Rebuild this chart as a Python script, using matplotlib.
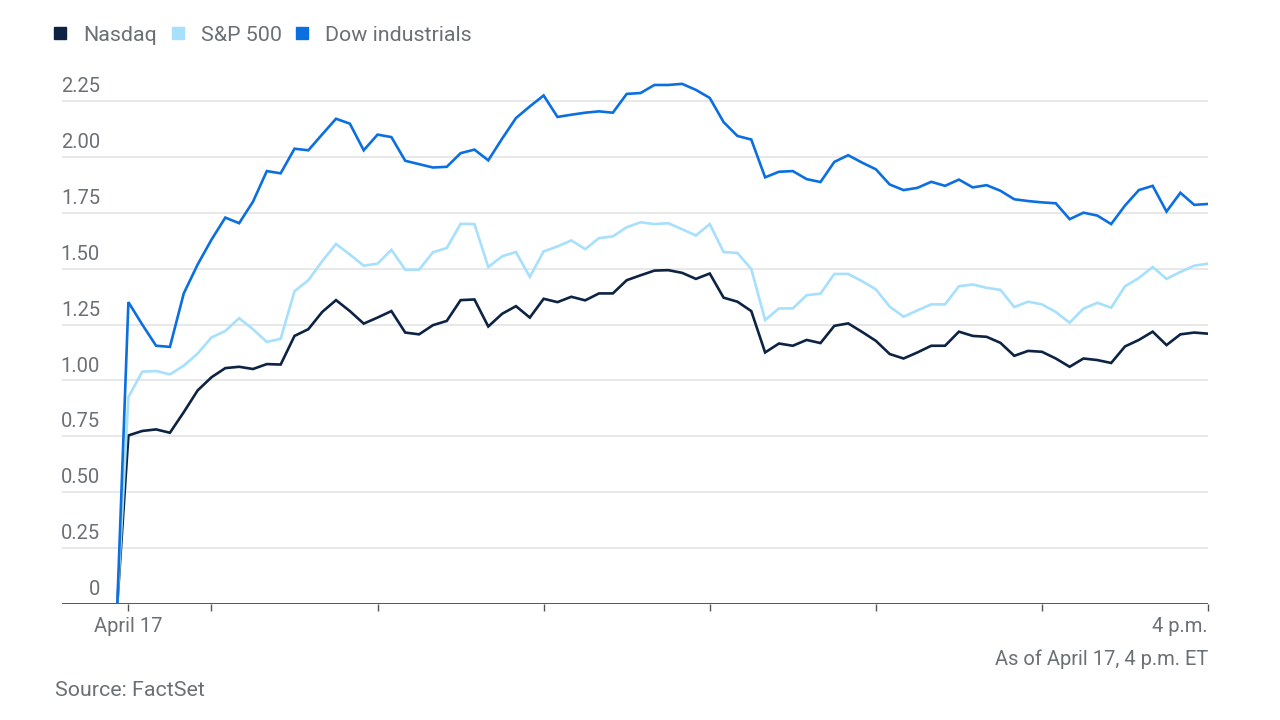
import matplotlib.pyplot as plt
from matplotlib.lines import Line2D
from matplotlib.transforms import blended_transform_factory, offset_copy

plt.rcParams['font.family'] = ['Roboto', 'DejaVu Sans']

# minutes after 9:30 a.m. (first point is the prior close)
minutes = [-4] + list(range(0, 391, 5))

nasdaq = [0, 0.754, 0.774, 0.781, 0.766, 0.858, 0.955, 1.014, 1.055, 1.061, 1.051,
          1.073, 1.071, 1.199, 1.229, 1.306, 1.359, 1.310, 1.254, 1.281, 1.310,
          1.214, 1.206, 1.247, 1.266, 1.359, 1.362, 1.241, 1.298, 1.332, 1.281,
          1.365, 1.350, 1.374, 1.358, 1.389, 1.389, 1.448, 1.470, 1.491, 1.493,
          1.481, 1.454, 1.478, 1.370, 1.352, 1.310, 1.125, 1.165, 1.155, 1.181,
          1.167, 1.244, 1.255, 1.217, 1.177, 1.118, 1.098, 1.125, 1.155, 1.155,
          1.218, 1.199, 1.195, 1.168, 1.110, 1.132, 1.128, 1.098, 1.061, 1.098,
          1.091, 1.078, 1.152, 1.181, 1.218, 1.158, 1.206, 1.214, 1.209]

sp500 = [0, 0.925, 1.039, 1.042, 1.027, 1.066, 1.120, 1.192, 1.221, 1.278, 1.229,
         1.172, 1.186, 1.399, 1.448, 1.533, 1.610, 1.563, 1.513, 1.522, 1.584,
         1.495, 1.495, 1.573, 1.592, 1.700, 1.699, 1.507, 1.555, 1.574, 1.463,
         1.577, 1.599, 1.626, 1.587, 1.636, 1.644, 1.685, 1.707, 1.699, 1.703,
         1.676, 1.648, 1.699, 1.574, 1.570, 1.498, 1.270, 1.322, 1.322, 1.381,
         1.388, 1.476, 1.476, 1.444, 1.407, 1.330, 1.285, 1.313, 1.340, 1.340,
         1.421, 1.429, 1.414, 1.405, 1.328, 1.352, 1.340, 1.306, 1.258, 1.321,
         1.347, 1.325, 1.421, 1.458, 1.507, 1.454, 1.485, 1.513, 1.522]

dow = [0, 1.350, 1.250, 1.155, 1.150, 1.389, 1.518, 1.629, 1.728, 1.703, 1.799,
       1.936, 1.926, 2.036, 2.029, 2.100, 2.170, 2.148, 2.029, 2.099, 2.088,
       1.982, 1.967, 1.952, 1.955, 2.016, 2.032, 1.984, 2.081, 2.173, 2.225,
       2.274, 2.178, 2.188, 2.197, 2.203, 2.197, 2.281, 2.285, 2.321, 2.321,
       2.326, 2.299, 2.263, 2.155, 2.093, 2.077, 1.908, 1.933, 1.936, 1.900,
       1.887, 1.977, 2.007, 1.974, 1.944, 1.876, 1.851, 1.861, 1.888, 1.870,
       1.898, 1.863, 1.873, 1.848, 1.810, 1.802, 1.796, 1.792, 1.721, 1.750,
       1.737, 1.699, 1.782, 1.851, 1.870, 1.755, 1.839, 1.785, 1.789]

names = ['Nasdaq', 'S&P 500', 'Dow industrials']
colors = ['#0c2343', '#a6e0fd', '#0b6fe0']
yticks = [0, 0.25, 0.5, 0.75, 1.0, 1.25, 1.5, 1.75, 2.0, 2.25]
ylabels = ['0', '0.25', '0.50', '0.75', '1.00', '1.25', '1.50', '1.75', '2.00', '2.25']
xticks = [0, 30, 90, 150, 210, 270, 330, 390]
xlabels = ['April 17', '', '', '', '', '', '', '4 p.m.']

grey = '#6b7075'

fig = plt.figure(figsize=(12.8, 7.2), dpi=100)
ax = fig.add_axes([0.0484, 0.161, 0.8954, 0.73])

for series, c in zip([nasdaq, sp500, dow], colors):
    ax.plot(minutes, series, color=c, lw=1.9, solid_joinstyle='miter', zorder=3)

ax.set_xlim(-24, 390)
ax.set_ylim(0, 2.35)

for v in yticks[1:]:
    ax.axhline(v, color='#e8e8e8', lw=1.4, zorder=1)
ax.axhline(0, color='#555555', lw=1.4, zorder=2)

for s in ax.spines.values():
    s.set_visible(False)

ax.set_yticks([])
ax.set_xticks(xticks)
ax.set_xticklabels(xlabels)
ax.tick_params(axis='x', length=5, width=1, color='#555555', labelcolor=grey,
               labelsize=14.5, pad=4)
ax.get_xticklabels()[-1].set_ha('right')

trans = offset_copy(blended_transform_factory(ax.transAxes, ax.transData),
                    fig=fig, x=0, y=3.5, units='points')
for v, lab in zip(yticks, ylabels):
    ax.text(0.0332, v, lab, transform=trans, ha='right', va='bottom',
            fontsize=14.5, color=grey)

handles = [Line2D([], [], ls='', marker='s', markersize=8, color=c) for c in colors]
fig.legend(handles, names, loc='center left', bbox_to_anchor=(0.0387, 0.951),
           ncol=3, frameon=False, fontsize=15.4, handlelength=1.0,
           handletextpad=0.58, columnspacing=0.46, borderpad=0,
           borderaxespad=0, labelcolor=grey)

fig.text(0.9438, 0.085, 'As of April 17, 4 p.m. ET', ha='right', va='center',
         fontsize=14.5, color=grey)
fig.text(0.043, 0.041, 'Source: FactSet', ha='left', va='center',
         fontsize=15.4, color=grey)

plt.savefig('out.png', dpi=100)
